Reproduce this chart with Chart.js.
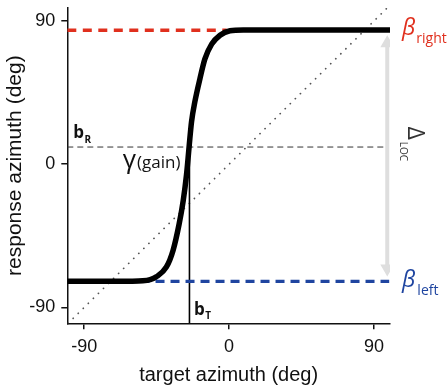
<!DOCTYPE html>
<html>
<head>
<meta charset="UTF-8">
<title>response vs target azimuth</title>
<script src="https://cdn.jsdelivr.net/npm/chart.js@4.4.1/dist/chart.umd.min.js"></script>
<style>
  html, body { margin: 0; padding: 0; background: #fff; }
  #wrap { width: 447px; height: 390px; }
</style>
</head>
<body>
<div id="wrap"><canvas id="canvas"></canvas></div>
<script>
// sigmoid response curve (deg)
const targetAz   = [-100.5, -60, -53.6, -49, -45.2, -38.9, -34.8, -31, -28.5, -26.4, -24.8, -23.3, -21.25, -18.1, -15, -10.8, -5.6, 0.6, 8.8, 20, 100];
const responseAz = [-73.5, -73.5, -73.3, -72.5, -70.8, -64.6, -54.2, -37.5, -23, -6.4, 11.2, 26.8, 39.2, 53.7, 66.2, 75.5, 81.1, 83.9, 84.4, 84.4, 84.4];
const axisTicks = [-90, 0, 90];
const xRange = [-100.5, 100];
const yRange = [-100, 98.2];

// model parameters
const betaRight = 84.2;
const betaLeft = -73.6;
const bR = 10.8;
const bT = -24.6;
const redDashX = [-100.5, -1.5];
const blueDashX = [-55, 99.5];
const arrowX = 98.3;
const arrowY = [76, -65.5];

const pts = (xs, ys) => xs.map((x, i) => ({ x: x, y: ys[i] }));

const annotations = {
  id: 'annotations',
  afterDatasetsDraw(chart) {
    const ctx = chart.ctx;
    const X = v => chart.scales.x.getPixelForValue(v);
    const Y = v => chart.scales.y.getPixelForValue(v);
    const area = chart.chartArea;

    function withSub(x, y, main, mainFont, subText, subFont, dx, dy, color) {
      ctx.fillStyle = color;
      ctx.textAlign = 'left';
      ctx.textBaseline = 'alphabetic';
      ctx.font = mainFont;
      ctx.fillText(main, x, y);
      const w = ctx.measureText(main).width;
      ctx.font = subFont;
      ctx.fillText(subText, x + w + dx, y + dy);
    }

    ctx.save();
    // beta labels
    withSub(area.right + 12, Y(betaRight) + 5, 'β', 'italic 23px "Open Sans"', 'right', '14px "Open Sans"', 1, 7.5, '#e0301e');
    withSub(area.right + 12, Y(betaLeft) + 5.5, 'β', 'italic 23px "Open Sans"', 'left', '14px "Open Sans"', 2, 8, '#1f45a0');

    // b_R and b_T
    withSub(area.left + 6, Y(bR) - 9, 'b', 'bold 17px "Open Sans"', 'R', 'bold 10px "Open Sans"', 0.5, 5, '#111');
    withSub(X(bT) + 4.5, area.bottom - 8.5, 'b', 'bold 17px "Open Sans"', 'T', 'bold 10px "Open Sans"', 0.5, 4.5, '#111');

    // gamma (gain)
    ctx.fillStyle = '#111';
    ctx.textBaseline = 'alphabetic';
    ctx.textAlign = 'right';
    ctx.font = '17px "Open Sans"';
    const gx = X(bT) - 9;
    const gy = Y(bR) + 21;
    ctx.fillText('(gain)', gx, gy);
    const gw = ctx.measureText('(gain)').width;
    ctx.font = '26px "Open Sans"';
    ctx.fillText('γ', gx - gw - 1, gy);

    // Delta LOC, rotated
    ctx.translate(X(arrowX) + 20.5, Y(bR) - 20.5);
    ctx.rotate(Math.PI / 2);
    ctx.textAlign = 'left';
    withSub(0, 0, 'Δ', '23px "Open Sans"', 'LOC', '10px "Open Sans"', 2, 7.3, '#333');
    ctx.restore();
  }
};

const blackAxis = {
  grid: { display: true, drawOnChartArea: false, drawTicks: true, tickLength: 6, color: '#111', lineWidth: 1.5 },
  border: { display: true, color: '#111', width: 1.5 }
};

new Chart(document.getElementById('canvas'), {
  type: 'scatter',
  data: {
    datasets: [
      {
        label: 'response',
        data: pts(targetAz, responseAz),
        showLine: true,
        borderColor: '#000',
        borderWidth: 5.5,
        pointRadius: 0,
        cubicInterpolationMode: 'monotone'
      },
      {
        label: 'arrow',
        data: pts([arrowX, arrowX], arrowY),
        showLine: true,
        borderColor: '#dedede',
        borderWidth: 4,
        pointStyle: 'triangle',
        pointRotation: [0, 180],
        pointRadius: 8,
        pointBorderWidth: 0,
        pointBackgroundColor: '#dedede'
      },
      {
        label: 'beta right',
        data: pts(redDashX, [betaRight, betaRight]),
        showLine: true,
        borderColor: '#e0301e',
        borderWidth: 3.3,
        borderDash: [9, 6.5],
        pointRadius: 0
      },
      {
        label: 'beta left',
        data: pts(blueDashX, [betaLeft, betaLeft]),
        showLine: true,
        borderColor: '#1f45a0',
        borderWidth: 3.3,
        borderDash: [9, 6],
        pointRadius: 0
      },
      {
        label: 'bT',
        data: pts([bT, bT], [yRange[0], bR]),
        showLine: true,
        borderColor: '#000',
        borderWidth: 1.6,
        pointRadius: 0
      },
      {
        label: 'bR',
        data: pts([xRange[0], 97.7], [bR, bR]),
        showLine: true,
        borderColor: '#333',
        borderWidth: 1,
        borderDash: [6, 4],
        pointRadius: 0
      },
      {
        label: 'identity',
        data: pts([-100, 100], [-100, 100]),
        showLine: true,
        borderColor: '#555',
        borderWidth: 1.7,
        borderDash: [0.1, 7],
        borderCapStyle: 'round',
        pointRadius: 0
      }
    ]
  },
  options: {
    responsive: true,
    maintainAspectRatio: false,
    devicePixelRatio: 1,
    animation: false,
    layout: { padding: { top: 2, right: 57, left: 0, bottom: 0 } },
    plugins: { legend: { display: false }, tooltip: { enabled: false } },
    scales: {
      x: Object.assign({
        type: 'linear',
        min: xRange[0],
        max: xRange[1],
        afterBuildTicks: s => { s.ticks = axisTicks.map(v => ({ value: v })); },
        afterFit: s => { s.height = 66.7; s.paddingLeft = 0; s.paddingRight = 0; },
        ticks: { font: { family: '"Liberation Sans", Arial', size: 18 }, color: '#111', padding: 7, maxRotation: 0 },
        title: { display: true, text: 'target azimuth (deg)', font: { family: '"Liberation Sans", Arial', size: 20 }, color: '#111', padding: { top: 0, bottom: 3 } }
      }, blackAxis),
      y: Object.assign({
        type: 'linear',
        min: yRange[0],
        max: yRange[1],
        afterBuildTicks: s => { s.ticks = axisTicks.map(v => ({ value: v })); },
        afterFit: s => { s.width = 67.3; s.paddingTop = 0; s.paddingBottom = 0; },
        ticks: { font: { family: '"Liberation Sans", Arial', size: 18 }, color: '#111', padding: 6 },
        title: { display: true, text: 'response azimuth (deg)', font: { family: '"Liberation Sans", Arial', size: 21 }, color: '#111', padding: { top: 3, bottom: 0 } }
      }, blackAxis)
    }
  },
  plugins: [annotations]
});
</script>
</body>
</html>
